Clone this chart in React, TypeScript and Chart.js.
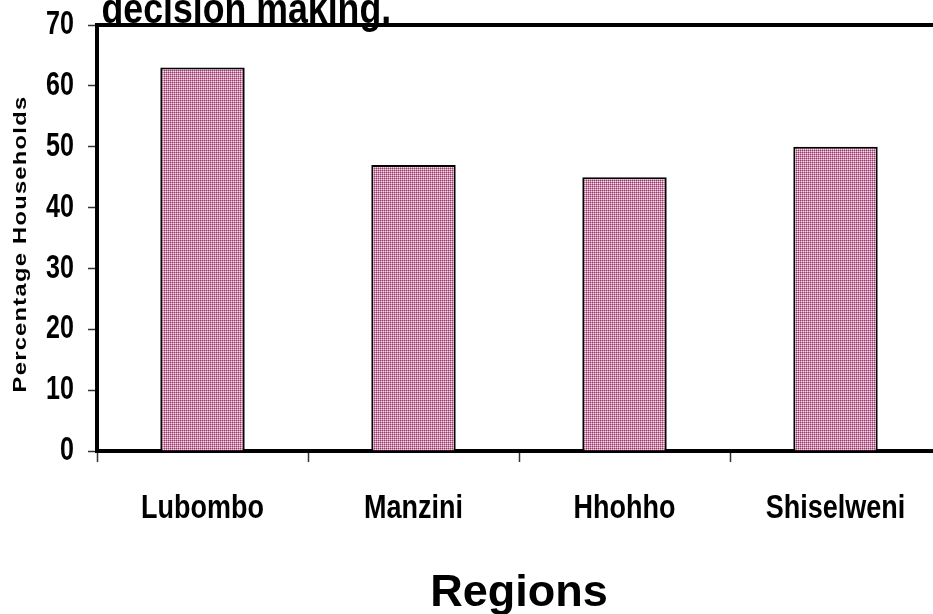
import React, { useEffect, useRef } from 'react';
import { Chart, registerables } from 'chart.js';

Chart.register(...registerables);

const categories = ['Lubombo', 'Manzini', 'Hhohho', 'Shiselweni'];
const percentages = [63, 47, 45, 50];
const yMin = 0;
const yMax = 70;
const yStep = 10;
const chartTitle = 'decision making.';
const xAxisTitle = 'Regions';
const yAxisTitle = 'Percentage Households';

const FONT = "'Liberation Sans', Arial, sans-serif";

function makePattern(ctx: CanvasRenderingContext2D): CanvasPattern | string {
  const c = document.createElement('canvas');
  c.width = 2;
  c.height = 2;
  const p = c.getContext('2d');
  if (!p) return '#d48ab0';
  p.fillStyle = '#f3dde8';
  p.fillRect(0, 0, 2, 2);
  p.fillStyle = '#cc86aa';
  p.fillRect(1, 0, 1, 1);
  p.fillRect(0, 1, 1, 1);
  p.fillStyle = '#9a3c6c';
  p.fillRect(0, 0, 1, 1);
  return ctx.createPattern(c, 'repeat') || '#d48ab0';
}

function drawScaledText(
  ctx: CanvasRenderingContext2D,
  text: string,
  x: number,
  y: number,
  sx: number,
  align: CanvasTextAlign,
  baseline: CanvasTextBaseline
) {
  ctx.save();
  ctx.translate(x, y);
  ctx.scale(sx, 1);
  ctx.textAlign = align;
  ctx.textBaseline = baseline;
  ctx.fillText(text, 0, 0);
  ctx.restore();
}

const decorPlugin = {
  id: 'decor',
  afterDraw(chart: any) {
    const { ctx, chartArea, scales } = chart;
    const { left, top, right, bottom } = chartArea;
    ctx.save();
    // plot frame: top and right edges
    ctx.strokeStyle = '#000';
    ctx.lineWidth = 4;
    ctx.beginPath();
    ctx.moveTo(left - 2, top);
    ctx.lineTo(right, top);
    ctx.lineTo(right, bottom);
    ctx.stroke();

    ctx.fillStyle = '#000';

    // y tick labels (condensed bold)
    ctx.font = `bold 33px ${FONT}`;
    const ys = scales.y;
    ys.ticks.forEach((t: any) => {
      const py = ys.getPixelForValue(t.value);
      drawScaledText(ctx, String(t.value), 74, py, 0.76, 'right', 'middle');
    });

    // x tick labels (condensed bold)
    ctx.font = `bold 32.5px ${FONT}`;
    const xs = scales.x;
    categories.forEach((c, i) => {
      const px = xs.getPixelForValue(i);
      drawScaledText(ctx, c, px, 518, 0.83, 'center', 'alphabetic');
    });

    // chart title (partially cut off at the top)
    ctx.font = `bold 42px ${FONT}`;
    drawScaledText(ctx, chartTitle, 101.5, 23, 0.85, 'left', 'alphabetic');

    // y axis title
    ctx.font = `bold 19px ${FONT}`;
    try {
      (ctx as any).letterSpacing = '1px';
    } catch (e) {}
    ctx.translate(26, 244);
    ctx.rotate(-Math.PI / 2);
    ctx.scale(1.25, 1);
    ctx.textAlign = 'center';
    ctx.textBaseline = 'alphabetic';
    ctx.fillText(yAxisTitle, 0, 0);
    ctx.restore();
  },
};

export default function App() {
  const ref = useRef<HTMLCanvasElement | null>(null);
  useEffect(() => {
    const canvas = ref.current;
    if (!canvas) return;
    const ctx = canvas.getContext('2d');
    if (!ctx) return;
    const pattern = makePattern(ctx);
    const chart = new Chart(canvas, {
      type: 'bar',
      data: {
        labels: categories,
        datasets: [
          {
            data: percentages,
            backgroundColor: pattern as any,
            borderColor: '#000',
            borderWidth: 2,
            borderSkipped: 'bottom',
            categoryPercentage: 1,
            barPercentage: 0.4,
          },
        ],
      },
      plugins: [decorPlugin],
      options: {
        responsive: false,
        animation: false,
        devicePixelRatio: 1,
        layout: { padding: { left: 0, top: 25, right: 9, bottom: 0 } },
        plugins: {
          legend: { display: false },
          tooltip: { enabled: false },
          title: { display: false },
        },
        scales: {
          x: {
            grid: {
              display: true,
              drawOnChartArea: false,
              drawTicks: true,
              tickLength: 11,
              tickColor: '#333',
              tickWidth: 1.5,
              offset: true,
            },
            border: { display: true, color: '#000', width: 4 },
            ticks: { display: false },
            title: {
              display: true,
              text: xAxisTitle,
              color: '#000',
              font: { family: FONT, size: 45, weight: 'bold' },
              padding: { top: 0, bottom: 19 },
            },
            afterFit: (s: any) => {
              s.height = 189;
            },
          },
          y: {
            min: yMin,
            max: yMax,
            grid: {
              display: true,
              drawOnChartArea: false,
              drawTicks: true,
              tickLength: 9,
              tickColor: '#333',
              tickWidth: 1.5,
            },
            border: { display: true, color: '#000', width: 4 },
            ticks: { display: false, stepSize: yStep },
            afterFit: (s: any) => {
              s.width = 97;
            },
          },
        },
      },
    });
    return () => chart.destroy();
  }, []);
  return (
    <div
      style={{
        position: 'fixed',
        left: 0,
        top: 0,
        width: 933,
        height: 614,
        overflow: 'hidden',
        background: '#fff',
      }}
    >
      <canvas ref={ref} width={950} height={640} style={{ display: 'block' }} />
    </div>
  );
}
